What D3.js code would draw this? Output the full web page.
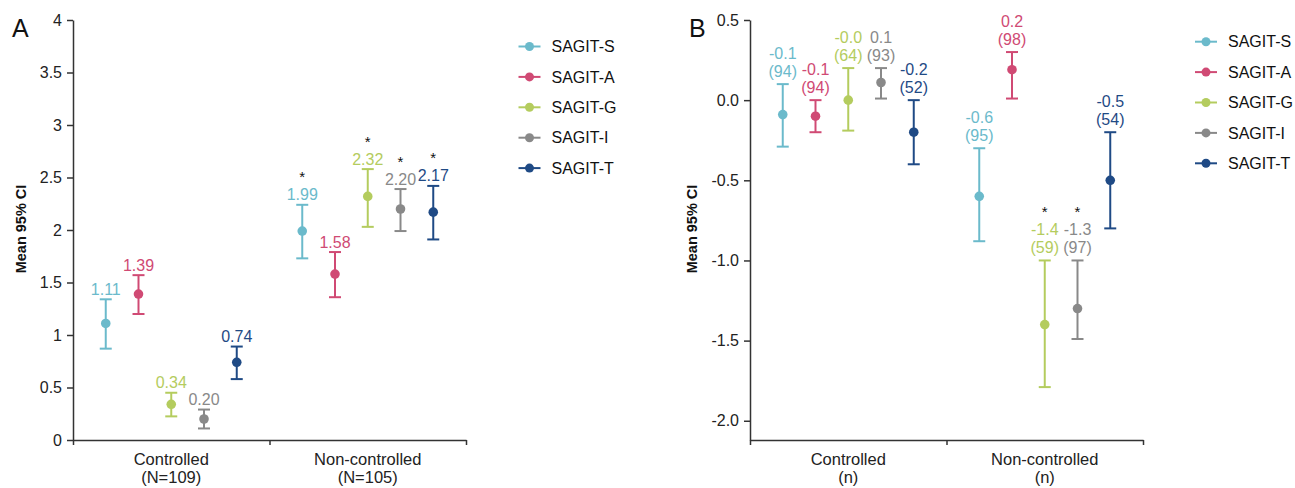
<!DOCTYPE html>
<html lang="en">
<head>
    <meta charset="UTF-8">
    <title>SAGIT mean change, 95% CI</title>
    <script src="https://cdn.jsdelivr.net/npm/d3@7"></script>
    <style>
        body { margin: 0; background: #fff; }
        svg { display: block; font-family: "Liberation Sans", Arial, Helvetica, sans-serif; }
    </style>
</head>
<body>
<div id="main"></div>
<script>
    // ---- data ----
    const series = ["SAGIT-S", "SAGIT-A", "SAGIT-G", "SAGIT-I", "SAGIT-T"];
    const colors = ["#6bbacb", "#d04a74", "#b4cc5e", "#898989", "#1f4a85"];
    const groups = ["Controlled", "Non-controlled"];
    const subA = ["(N=109)", "(N=105)"];
    const subB = ["(n)", "(n)"];

    // panel A
    const ticksA = [0, 0.5, 1, 1.5, 2, 2.5, 3, 3.5, 4];
    const meanA_ctrl = [1.11, 1.39, 0.34, 0.20, 0.74];
    const lowA_ctrl  = [0.87, 1.20, 0.225, 0.11, 0.58];
    const highA_ctrl = [1.34, 1.57, 0.45, 0.29, 0.89];
    const starA_ctrl = [false, false, false, false, false];
    const meanA_non  = [1.99, 1.58, 2.32, 2.20, 2.17];
    const lowA_non   = [1.73, 1.36, 2.03, 1.99, 1.91];
    const highA_non  = [2.24, 1.79, 2.58, 2.39, 2.42];
    const starA_non  = [true, false, true, true, true];

    // panel B
    const ticksB = [-2.0, -1.5, -1.0, -0.5, 0.0, 0.5];
    const meanB_ctrl = [-0.09, -0.10, 0.0, 0.11, -0.20];
    const lowB_ctrl  = [-0.29, -0.20, -0.19, 0.01, -0.40];
    const highB_ctrl = [0.10, 0.0, 0.20, 0.20, 0.0];
    const labB_ctrl  = ["-0.1", "-0.1", "-0.0", "0.1", "-0.2"];
    const nB_ctrl    = [94, 94, 64, 93, 52];
    const starB_ctrl = [false, false, false, false, false];
    const meanB_non  = [-0.60, 0.19, -1.40, -1.30, -0.50];
    const lowB_non   = [-0.88, 0.01, -1.79, -1.49, -0.80];
    const highB_non  = [-0.30, 0.30, -1.0, -1.0, -0.20];
    const labB_non   = ["-0.6", "0.2", "-1.4", "-1.3", "-0.5"];
    const nB_non     = [95, 98, 59, 97, 54];
    const starB_non  = [false, false, true, true, false];

    const W = 1295, H = 488;
    const axisCol = "#333";

    const svg = d3.select("#main").append("svg")
        .attr("width", W).attr("height", H);

    function rows(mean, low, high, lab, n, star) {
        return series.map((s, i) => ({
            s, i, mean: mean[i], low: low[i], high: high[i],
            lab: lab[i], n: n ? n[i] : null, star: star[i]
        }));
    }

    function panel(o) {
        const g = svg.append("g");
        const y = d3.scaleLinear().domain(o.domain).range([440, 20]);
        const x = d3.scaleBand().domain(groups).range([o.x0, o.x0 + 393]);
        const inner = d3.scalePoint().domain(series).range([0, x.bandwidth()]).padding(1);

        // y axis
        const ya = g.append("g")
            .attr("transform", "translate(" + o.x0 + ",0)")
            .call(d3.axisLeft(y).tickValues(o.ticks).tickSize(6).tickSizeOuter(0).tickPadding(5).tickFormat(o.fmt));
        ya.selectAll("path,line").attr("stroke", axisCol).attr("stroke-width", 1.5);
        ya.selectAll("text").attr("font-size", 16).attr("fill", "#222").attr("font-family", null);

        // x axis: line with ticks at band edges
        const edges = d3.scaleLinear().domain([0, groups.length]).range(x.range());
        const xa = g.append("g")
            .attr("transform", "translate(0,440)")
            .call(d3.axisBottom(edges).tickValues(d3.range(groups.length + 1)).tickSize(5).tickSizeOuter(0).tickFormat(""));
        xa.selectAll("path,line").attr("stroke", axisCol).attr("stroke-width", 1.5);

        groups.forEach((gr, k) => {
            const cx = x(gr) + x.bandwidth() / 2;
            const t = g.append("text").attr("text-anchor", "middle")
                .attr("font-size", 16.5).attr("fill", "#222");
            t.append("tspan").attr("x", cx).attr("y", 465).text(gr);
            t.append("tspan").attr("x", cx).attr("y", 483).text(o.sub[k]);
        });

        // y title
        g.append("text")
            .attr("transform", "translate(" + o.titleX + ",229) rotate(-90)")
            .attr("text-anchor", "middle").attr("dominant-baseline", "central")
            .attr("font-size", 14.5).attr("font-weight", "bold").attr("fill", "#111")
            .text("Mean 95% CI");

        // panel letter
        g.append("text").attr("x", o.letterX).attr("y", 37)
            .attr("font-size", 25).attr("fill", "#111").text(o.letter);

        // error bars
        o.data.forEach((rowsArr, k) => {
            const gr = groups[k];
            const cg = g.append("g").selectAll("g").data(rowsArr).join("g")
                .attr("transform", d => "translate(" + (x(gr) + inner(d.s)) + ",0)");
            cg.append("line")
                .attr("y1", d => y(d.low)).attr("y2", d => y(d.high))
                .attr("stroke", d => colors[d.i]).attr("stroke-width", 2);
            cg.selectAll("line.cap").data(d => [d.low, d.high].map(v => ({v, c: colors[d.i]})))
                .join("line").attr("class", "cap")
                .attr("x1", -6).attr("x2", 6)
                .attr("y1", e => y(e.v)).attr("y2", e => y(e.v))
                .attr("stroke", e => e.c).attr("stroke-width", 2);
            cg.append("circle")
                .attr("cy", d => y(d.mean)).attr("r", 4.8)
                .attr("fill", d => colors[d.i]);

            // value labels
            cg.each(function(d) {
                const sel = d3.select(this);
                const top = y(d.high);
                let firstBase;
                if (d.n !== null) {
                    firstBase = top - 25.5;
                    sel.append("text").attr("text-anchor", "middle").attr("y", top - 7)
                        .attr("font-size", 16).attr("fill", colors[d.i]).text("(" + d.n + ")");
                } else {
                    firstBase = top - 4.5;
                }
                sel.append("text").attr("text-anchor", "middle").attr("y", firstBase)
                    .attr("font-size", 16).attr("fill", colors[d.i]).text(d.lab);
                if (d.star) {
                    sel.append("text").attr("text-anchor", "middle").attr("y", firstBase - o.starGap)
                        .attr("font-size", 15).attr("fill", "#111").text("*");
                }
            });
        });

        // legend
        const lg = g.append("g").selectAll("g").data(series).join("g")
            .attr("transform", (d, i) => "translate(" + o.legX + "," + (o.legY + i * 30.4) + ")");
        lg.append("line").attr("x1", -11).attr("x2", 11)
            .attr("stroke", (d, i) => colors[i]).attr("stroke-width", 2);
        lg.append("circle").attr("r", 4.5).attr("fill", (d, i) => colors[i]);
        lg.append("text").attr("x", 22).attr("y", 5.6)
            .attr("font-size", 16).attr("fill", "#111").text(d => d);
    }

    panel({
        x0: 73, domain: [0, 4], ticks: ticksA, fmt: d => String(d),
        sub: subA, titleX: 21, letter: "A", letterX: 12,
        data: [
            rows(meanA_ctrl, lowA_ctrl, highA_ctrl, meanA_ctrl.map(v => v.toFixed(2)), null, starA_ctrl),
            rows(meanA_non, lowA_non, highA_non, meanA_non.map(v => v.toFixed(2)), null, starA_non)
        ],
        starGap: 18, legX: 529.5, legY: 46.5
    });

    panel({
        x0: 750, domain: [-2.12, 0.5], ticks: ticksB, fmt: d => d.toFixed(1),
        sub: subB, titleX: 691.5, letter: "B", letterX: 689,
        data: [
            rows(meanB_ctrl, lowB_ctrl, highB_ctrl, labB_ctrl, nB_ctrl, starB_ctrl),
            rows(meanB_non, lowB_non, highB_non, labB_non, nB_non, starB_non)
        ],
        starGap: 18, legX: 1206, legY: 41.7
    });
</script>
</body>
</html>
